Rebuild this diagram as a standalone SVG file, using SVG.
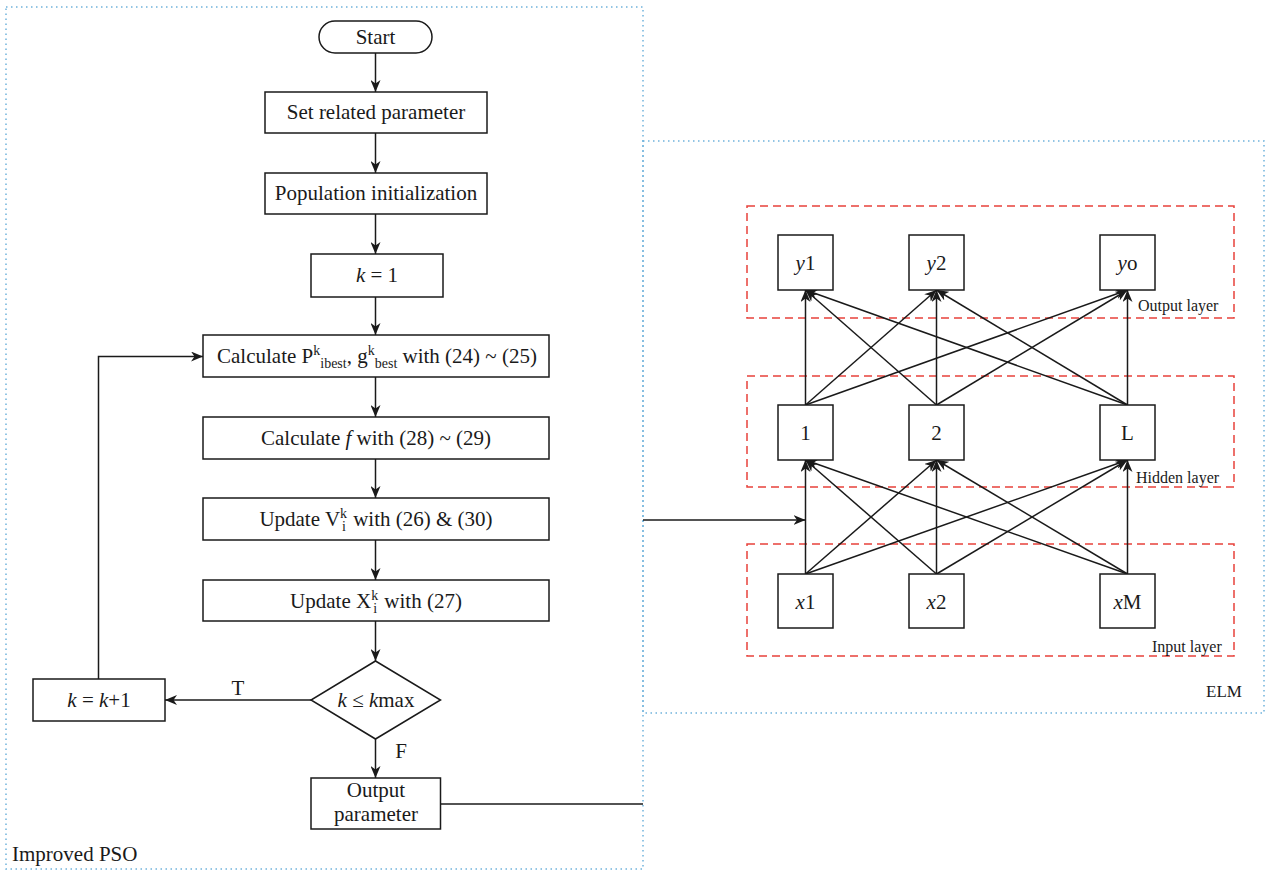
<svg xmlns="http://www.w3.org/2000/svg" width="1268" height="871" viewBox="0 0 1268 871">
<style>
.frame{fill:none;stroke:#6fb3dc;stroke-width:1.5;stroke-dasharray:1.5 3.5}
.layer{fill:none;stroke:#e8413b;stroke-width:1.5;stroke-dasharray:8 5}
.box{fill:#fff;stroke:#1a1a1a;stroke-width:1.5}
.ln{fill:none;stroke:#1a1a1a;stroke-width:1.5}
.arr{fill:none;stroke:#1a1a1a;stroke-width:1.5;marker-end:url(#ah)}
text{font-family:"Liberation Serif","Times New Roman",serif;fill:#1a1a1a}
.t{font-size:21px;text-anchor:middle}
.lab{font-size:16px}
.s{font-size:14px}
.i{font-style:italic}
</style>
<defs>
<marker id="ah" viewBox="0 0 12 10" refX="12" refY="5" markerWidth="12" markerHeight="10" orient="auto" markerUnits="userSpaceOnUse">
<path d="M0,0 L12,5 L0,10 L3.5,5 z" fill="#1a1a1a"/>
</marker>
</defs>
<rect id="pso-frame" class="frame" x="6" y="7" width="637" height="862"/>
<rect id="elm-frame" class="frame" x="643" y="141" width="621" height="572"/>
<g id="layers">
<rect class="layer" x="747" y="206" width="487" height="112"/>
<rect class="layer" x="747" y="376" width="487" height="111"/>
<rect class="layer" x="747" y="544" width="487" height="112"/>
</g>
<g id="connectors">
<line class="arr" x1="375.5" y1="53" x2="375.5" y2="92"/>
<line class="arr" x1="375.5" y1="133" x2="375.5" y2="173"/>
<line class="arr" x1="375.5" y1="214" x2="375.5" y2="254"/>
<line class="arr" x1="375.5" y1="297" x2="375.5" y2="335"/>
<line class="arr" x1="375.5" y1="377" x2="375.5" y2="417"/>
<line class="arr" x1="375.5" y1="459" x2="375.5" y2="498"/>
<line class="arr" x1="375.5" y1="540" x2="375.5" y2="580"/>
<line class="arr" x1="375.5" y1="621" x2="375.5" y2="661"/>
<line class="arr" x1="375.5" y1="739" x2="375.5" y2="778"/>
<line class="arr" x1="311" y1="700" x2="165" y2="700"/>
<polyline class="arr" points="98.5,679 98.5,356.5 203,356.5"/>
<line class="ln" x1="440.5" y1="804" x2="643" y2="804"/>
<line class="arr" x1="643" y1="520" x2="805.5" y2="520"/>
<!-- hidden to output -->
<line class="arr" x1="805.5" y1="405" x2="805.5" y2="290"/>
<line class="arr" x1="805.5" y1="405" x2="936.5" y2="290"/>
<line class="arr" x1="805.5" y1="405" x2="1127.5" y2="290"/>
<line class="arr" x1="936.5" y1="405" x2="805.5" y2="290"/>
<line class="arr" x1="936.5" y1="405" x2="936.5" y2="290"/>
<line class="arr" x1="936.5" y1="405" x2="1127.5" y2="290"/>
<line class="arr" x1="1127.5" y1="405" x2="805.5" y2="290"/>
<line class="arr" x1="1127.5" y1="405" x2="936.5" y2="290"/>
<line class="arr" x1="1127.5" y1="405" x2="1127.5" y2="290"/>
<!-- input to hidden -->
<line class="arr" x1="805.5" y1="574" x2="805.5" y2="460"/>
<line class="arr" x1="805.5" y1="574" x2="936.5" y2="460"/>
<line class="arr" x1="805.5" y1="574" x2="1127.5" y2="460"/>
<line class="arr" x1="936.5" y1="574" x2="805.5" y2="460"/>
<line class="arr" x1="936.5" y1="574" x2="936.5" y2="460"/>
<line class="arr" x1="936.5" y1="574" x2="1127.5" y2="460"/>
<line class="arr" x1="1127.5" y1="574" x2="805.5" y2="460"/>
<line class="arr" x1="1127.5" y1="574" x2="936.5" y2="460"/>
<line class="arr" x1="1127.5" y1="574" x2="1127.5" y2="460"/>
</g>
<g id="start"><rect class="box" x="319" y="21" width="113" height="32" rx="16"/><text class="t" x="375.5" y="44">Start</text></g>
<g id="set-param"><rect class="box" x="265" y="92" width="222" height="41"/><text class="t" x="376" y="119">Set related parameter</text></g>
<g id="pop-init"><rect class="box" x="265" y="173" width="222" height="41"/><text class="t" x="376" y="200">Population initialization</text></g>
<g id="k-init"><rect class="box" x="311" y="254" width="132" height="43"/><text class="t" x="377" y="282"><tspan class="i">k</tspan> = 1</text></g>
<g id="calc-p"><rect class="box" x="203" y="335" width="346" height="42"/><text class="t" x="377" y="363">Calculate P<tspan class="s" dy="-8">k</tspan><tspan class="s" dy="13">ibest</tspan><tspan dy="-5">, g</tspan><tspan class="s" dy="-8">k</tspan><tspan class="s" dy="13">best</tspan><tspan dy="-5"> with (24) ~ (25)</tspan></text></g>
<g id="calc-f"><rect class="box" x="203" y="417" width="346" height="42"/><text class="t" x="376" y="445">Calculate <tspan class="i">f</tspan> with (28) ~ (29)</text></g>
<g id="update-v"><rect class="box" x="203" y="498" width="346" height="42"/><text class="t" x="376" y="526">Update V<tspan class="s" dy="-8">k</tspan><tspan class="s" dy="13" dx="-5">i</tspan><tspan dy="-5" dx="2"> with (26) &amp; (30)</tspan></text></g>
<g id="update-x"><rect class="box" x="203" y="580" width="346" height="41"/><text class="t" x="376" y="608">Update X<tspan class="s" dy="-8">k</tspan><tspan class="s" dy="13" dx="-5">i</tspan><tspan dy="-5" dx="2"> with (27)</tspan></text></g>
<g id="decision"><polygon class="box" points="375.5,661 440.5,700 375.5,739 311,700"/><text class="t" x="376" y="707"><tspan class="i">k</tspan> ≤ <tspan class="i">k</tspan>max</text></g>
<g id="k-inc"><rect class="box" x="33" y="679" width="132" height="42"/><text class="t" x="99" y="707"><tspan class="i">k</tspan> = <tspan class="i">k</tspan>+1</text></g>
<g id="output"><rect class="box" x="311" y="778" width="129.5" height="51"/><text class="t" x="376" y="797">Output</text><text class="t" x="376" y="821">parameter</text></g>
<g id="edge-labels"><text class="t" x="238" y="695">T</text><text class="t" x="401" y="758">F</text></g>
<g id="pso-label"><text x="12" y="861" style="font-size:21px">Improved PSO</text></g>
<g id="elm-label"><text x="1206" y="697" style="font-size:17px">ELM</text></g>
<g id="y1"><rect class="box" x="778" y="235" width="55" height="55"/><text class="t" x="805.5" y="270"><tspan class="i">y</tspan>1</text></g>
<g id="y2"><rect class="box" x="909" y="235" width="55" height="55"/><text class="t" x="936.5" y="270"><tspan class="i">y</tspan>2</text></g>
<g id="yo"><rect class="box" x="1100" y="235" width="55" height="55"/><text class="t" x="1127.5" y="270"><tspan class="i">y</tspan>o</text></g>
<g id="h1"><rect class="box" x="778" y="405" width="55" height="55"/><text class="t" x="805.5" y="440">1</text></g>
<g id="h2"><rect class="box" x="909" y="405" width="55" height="55"/><text class="t" x="936.5" y="440">2</text></g>
<g id="hL"><rect class="box" x="1100" y="405" width="55" height="55"/><text class="t" x="1127.5" y="440">L</text></g>
<g id="x1"><rect class="box" x="778" y="574" width="55" height="54"/><text class="t" x="805.5" y="609"><tspan class="i">x</tspan>1</text></g>
<g id="x2"><rect class="box" x="909" y="574" width="55" height="54"/><text class="t" x="936.5" y="609"><tspan class="i">x</tspan>2</text></g>
<g id="xM"><rect class="box" x="1100" y="574" width="55" height="54"/><text class="t" x="1127.5" y="609"><tspan class="i">x</tspan>M</text></g>
<g id="layer-labels"><text class="lab" x="1138" y="311">Output layer</text><text class="lab" x="1136" y="483">Hidden layer</text><text class="lab" x="1152" y="652">Input layer</text></g>
</svg>
